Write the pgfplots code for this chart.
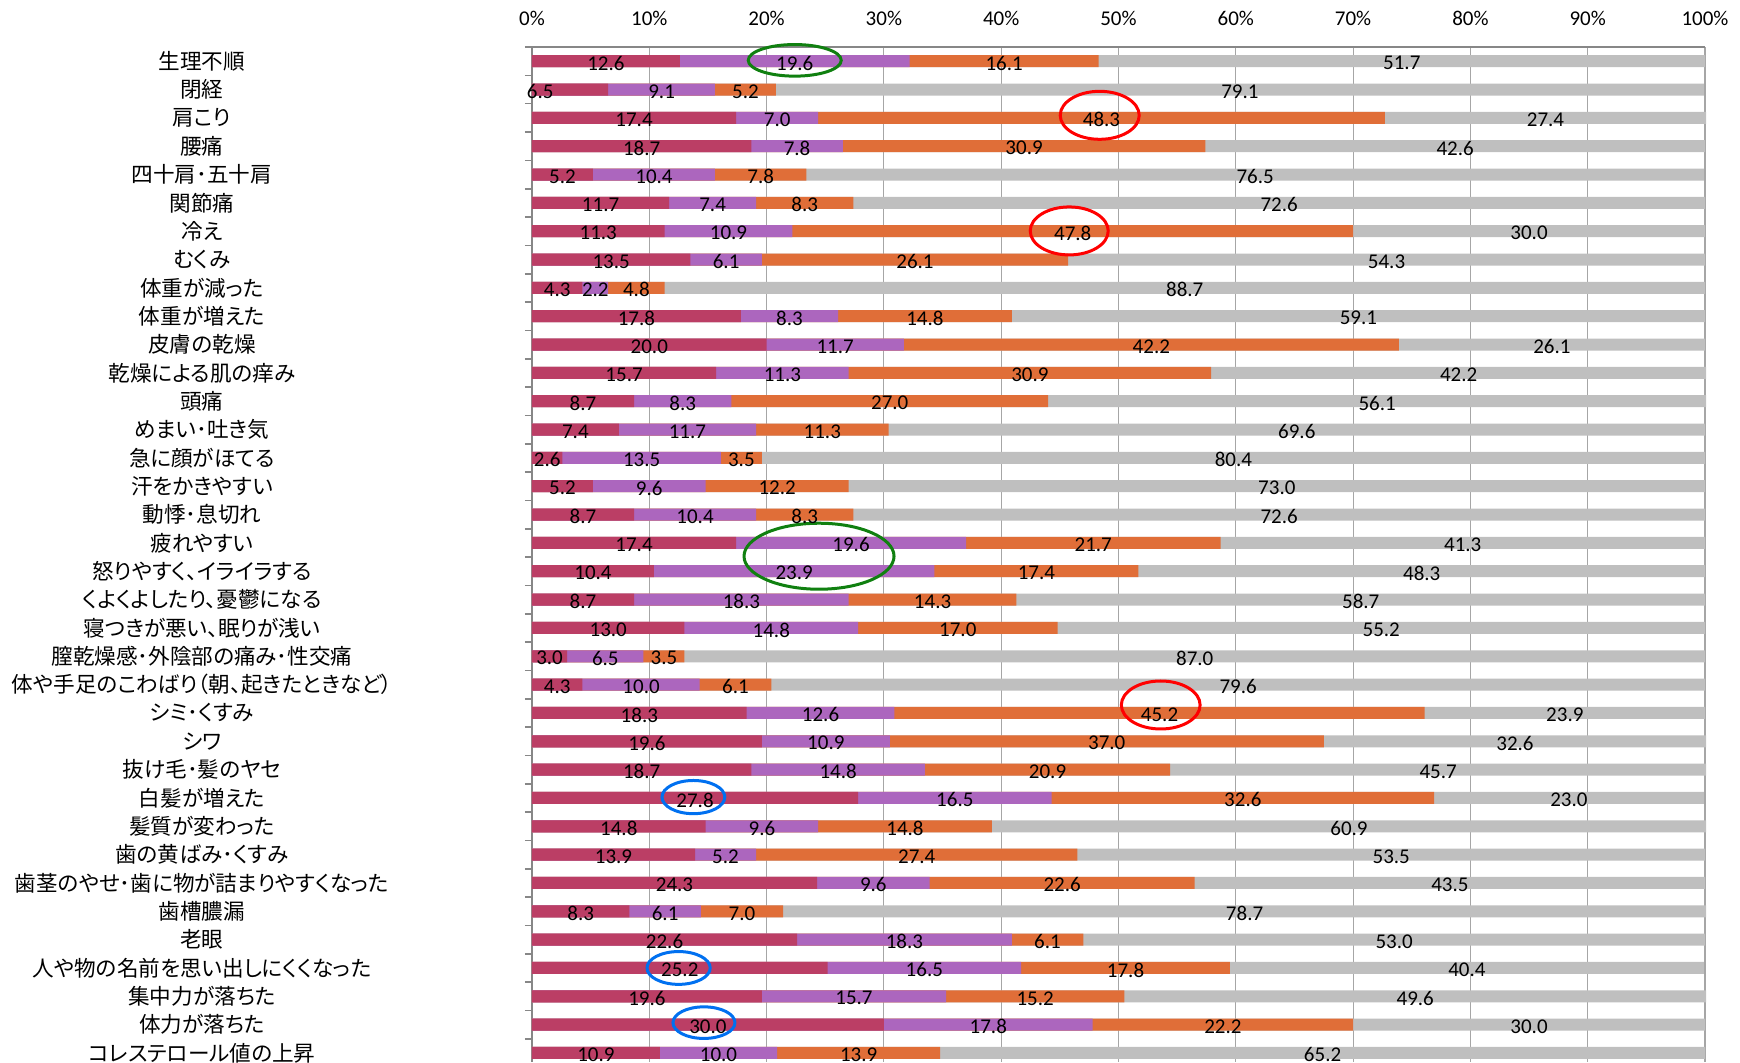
\documentclass[border=0pt]{standalone}
\usepackage{pgfplots}
\usepackage{pgfplotstable}
\pgfplotsset{compat=1.18}
\usepackage{fontspec}
\setmainfont{Carlito}
\newfontfamily\cjk[RawFeature=+palt]{Noto Sans CJK JP}
\definecolor{cA}{RGB}{187,62,101}
\definecolor{cB}{RGB}{172,102,190}
\definecolor{cC}{RGB}{224,110,56}
\definecolor{cD}{RGB}{191,191,191}
\definecolor{eG}{RGB}{16,128,16}
\definecolor{eR}{RGB}{255,0,0}
\definecolor{eB}{RGB}{0,112,240}

\pgfplotstableread{
y a b c d
0 12.6 19.6 16.1 51.7
1 6.5 9.1 5.2 79.1
2 17.4 7.0 48.3 27.4
3 18.7 7.8 30.9 42.6
4 5.2 10.4 7.8 76.5
5 11.7 7.4 8.3 72.6
6 11.3 10.9 47.8 30.0
7 13.5 6.1 26.1 54.3
8 4.3 2.2 4.8 88.7
9 17.8 8.3 14.8 59.1
10 20.0 11.7 42.2 26.1
11 15.7 11.3 30.9 42.2
12 8.7 8.3 27.0 56.1
13 7.4 11.7 11.3 69.6
14 2.6 13.5 3.5 80.4
15 5.2 9.6 12.2 73.0
16 8.7 10.4 8.3 72.6
17 17.4 19.6 21.7 41.3
18 10.4 23.9 17.4 48.3
19 8.7 18.3 14.3 58.7
20 13.0 14.8 17.0 55.2
21 3.0 6.5 3.5 87.0
22 4.3 10.0 6.1 79.6
23 18.3 12.6 45.2 23.9
24 19.6 10.9 37.0 32.6
25 18.7 14.8 20.9 45.7
26 27.8 16.5 32.6 23.0
27 14.8 9.6 14.8 60.9
28 13.9 5.2 27.4 53.5
29 24.3 9.6 22.6 43.5
30 8.3 6.1 7.0 78.7
31 22.6 18.3 6.1 53.0
32 25.2 16.5 17.8 40.4
33 19.6 15.7 15.2 49.6
34 30.0 17.8 22.2 30.0
35 10.9 10.0 13.9 65.2
}\data
\pgfplotstablecreatecol[create col/expr={\thisrow{a}+\thisrow{b}}]{ab}{\data}
\pgfplotstablecreatecol[create col/expr={\thisrow{a}+\thisrow{b}+\thisrow{c}}]{abc}{\data}
\pgfplotstablecreatecol[create col/expr={\thisrow{a}+\thisrow{b}+\thisrow{c}+\thisrow{d}}]{abcd}{\data}
\pgfplotstablecreatecol[create col/expr={\thisrow{a}/2}]{ma}{\data}
\pgfplotstablecreatecol[create col/expr={\thisrow{a}+\thisrow{b}/2}]{mb}{\data}
\pgfplotstablecreatecol[create col/expr={\thisrow{a}+\thisrow{b}+\thisrow{c}/2}]{mc}{\data}
\pgfplotstablecreatecol[create col/expr={\thisrow{a}+\thisrow{b}+\thisrow{c}+\thisrow{d}/2}]{md}{\data}

\pgfplotsset{
  barlayer/.style={xbar, bar width=6pt, bar shift=0pt, draw=none, fill=#1},
  lbl/.style={only marks, mark=*, mark size=0pt, mark options={draw=none, fill=none},
    nodes near coords, point meta=explicit symbolic, nodes near coords align=center,
    every node near coord/.append style={font=\fontsize{10.5}{12}\selectfont, text=black, inner sep=0pt, yshift=-1pt}},
}

\begin{document}
\begin{tikzpicture}
\begin{axis}[
  at={(0,0)}, anchor=north west,
  scale only axis, width=586.5pt, height=507.5pt,
  xmin=0, xmax=100, ymin=-0.5, ymax=35.32, y dir=reverse,
  clip=false,
  axis x line*=top, axis y line*=left,
  axis line style={color=black!47, line width=1pt},
  xtick={0,10,...,100},
  xticklabels={0\%,10\%,20\%,30\%,40\%,50\%,60\%,70\%,80\%,90\%,100\%},
  xticklabel style={font=\fontsize{10.5}{12}\selectfont, yshift=7pt},
  xmajorgrids, grid style={color=black!35, line width=0.6pt},
  major tick length=0pt,
  ytick={0,...,35},
  yticklabels={生理不順,閉経,肩こり,腰痛,四十肩･五十肩,関節痛,冷え,むくみ,体重が減った,体重が増えた,皮膚の乾燥,乾燥による肌の痒み,頭痛,めまい･吐き気,急に顔がほてる,汗をかきやすい,動悸･息切れ,疲れやすい,怒りやすく、イライラする,くよくよしたり、憂鬱になる,寝つきが悪い、眠りが浅い,膣乾燥感･外陰部の痛み･性交痛,体や手足のこわばり（朝、起きたときなど）,シミ･くすみ,シワ,抜け毛･髪のヤセ,白髪が増えた,髪質が変わった,歯の黄ばみ･くすみ,歯茎のやせ･歯に物が詰まりやすくなった,歯槽膿漏,老眼,人や物の名前を思い出しにくくなった,集中力が落ちた,体力が落ちた,コレステロール値の上昇},
  yticklabel style={font=\cjk\fontsize{10.8}{12}\selectfont, anchor=center, xshift=-165pt},
  extra y ticks={-0.5,0.5,...,34.5},
  extra y tick labels={},
  extra y tick style={major tick length=3.5pt, tick align=outside, tick style={color=black!47, line width=0.8pt}},
]
\addplot[barlayer=cD] table[x=abcd, y=y] {\data};
\addplot[barlayer=cC] table[x=abc, y=y] {\data};
\addplot[barlayer=cB] table[x=ab, y=y] {\data};
\addplot[barlayer=cA] table[x=a, y=y] {\data};

\addplot[lbl, x filter/.expression={\coordindex==1 ? nan : x}] table[x=ma, y=y, meta=a] {\data};
\addplot[lbl] coordinates {(0.7,1) [6.5]};
\addplot[lbl] table[x=mb, y=y, meta=b] {\data};
\addplot[lbl] table[x=mc, y=y, meta=c] {\data};
\addplot[lbl] table[x=md, y=y, meta=d] {\data};

\draw[eG, line width=1.5pt] (axis cs:22.4,-0.03) ellipse [x radius=23.25pt, y radius=7.9pt];
\draw[eG, line width=1.5pt] (axis cs:24.47,17.47) ellipse [x radius=37.5pt, y radius=16.5pt];
\draw[eR, line width=1.5pt] (axis cs:48.4,1.91) ellipse [x radius=19.75pt, y radius=12pt];
\draw[eR, line width=1.5pt] (axis cs:45.8,5.99) ellipse [x radius=19.5pt, y radius=12pt];
\draw[eR, line width=1.5pt] (axis cs:53.6,22.72) ellipse [x radius=19.7pt, y radius=12pt];
\draw[eB, line width=1.5pt] (axis cs:13.76,25.97) ellipse [x radius=15.7pt, y radius=8.3pt];
\draw[eB, line width=1.5pt] (axis cs:12.5,32.0) ellipse [x radius=15.8pt, y radius=8.2pt];
\draw[eB, line width=1.5pt] (axis cs:14.66,33.93) ellipse [x radius=15.5pt, y radius=7.9pt];
\end{axis}
\pgfresetboundingbox
\useasboundingbox (-266pt,-507.5pt) rectangle (604pt,23.5pt);
\end{tikzpicture}
\end{document}
